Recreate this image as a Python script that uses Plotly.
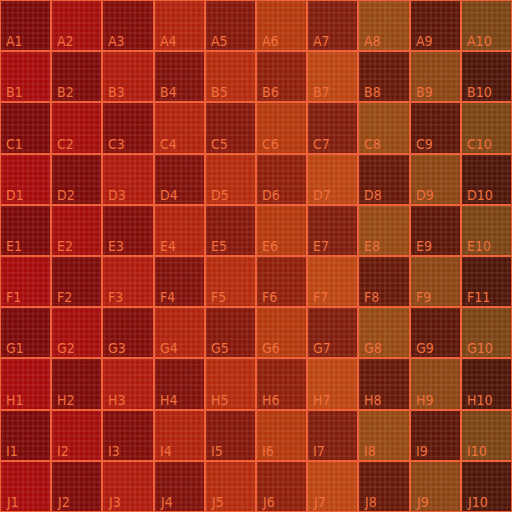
import plotly.graph_objects as go

rows = ["A", "B", "C", "D", "E", "F", "G", "H", "I", "J"]
cols = [1, 2, 3, 4, 5, 6, 7, 8, 9, 10]

# cell labels (note the original shows "F11" in row F, column 10)
labels = [[f"{r}{c}" for c in cols] for r in rows]
labels[5][9] = "F11"

# per-column shades: (dark, light)
dark_colors = ["#7a0808", "#7c0a08", "#800c08", "#80100a", "#84160a",
               "#8e1e0a", "#801c0c", "#661808", "#5c1608", "#4e1408"]
light_colors = ["#a60a0a", "#a40c0a", "#ae1a0c", "#b0220c", "#b42a0c",
                "#b4380c", "#bc4410", "#964812", "#8c4412", "#7a4212"]

fig = go.Figure()
for ri, r in enumerate(rows):
    colors = []
    for ci, c in enumerate(cols):
        colors.append(dark_colors[ci] if (ri + ci) % 2 == 0 else light_colors[ci])
    fig.add_trace(go.Bar(
        x=cols, y=[1] * len(cols), base=[len(rows) - 1 - ri] * len(cols),
        width=1,
        marker=dict(
            color=colors,
            line=dict(color="#f0623a", width=2),
            pattern=dict(shape="+", size=5.1, solidity=0.15,
                         fgcolor="#ff5a28", fgopacity=0.3, fillmode="overlay"),
        ),
        hoverinfo="skip", showlegend=False,
    ))

annotations = []
for ri, r in enumerate(rows):
    for ci, c in enumerate(cols):
        annotations.append(dict(
            x=c - 0.5, y=len(rows) - 1 - ri, xref="x", yref="y",
            text=labels[ri][ci], showarrow=False,
            xanchor="left", yanchor="bottom", xshift=4, yshift=0,
            font=dict(family="Liberation Sans Narrow, DejaVu Sans Condensed, sans-serif",
                      size=14, color="#f0703e"),
        ))

fig.update_layout(
    width=512, height=512,
    margin=dict(l=0, r=0, t=0, b=0),
    paper_bgcolor="#6a0e08", plot_bgcolor="#6a0e08",
    barmode="overlay", bargap=0,
    xaxis=dict(range=[0.5, 10.5], visible=False, fixedrange=True),
    yaxis=dict(range=[0, 10], visible=False, fixedrange=True),
    annotations=annotations,
)
fig.write_html("out.html")
